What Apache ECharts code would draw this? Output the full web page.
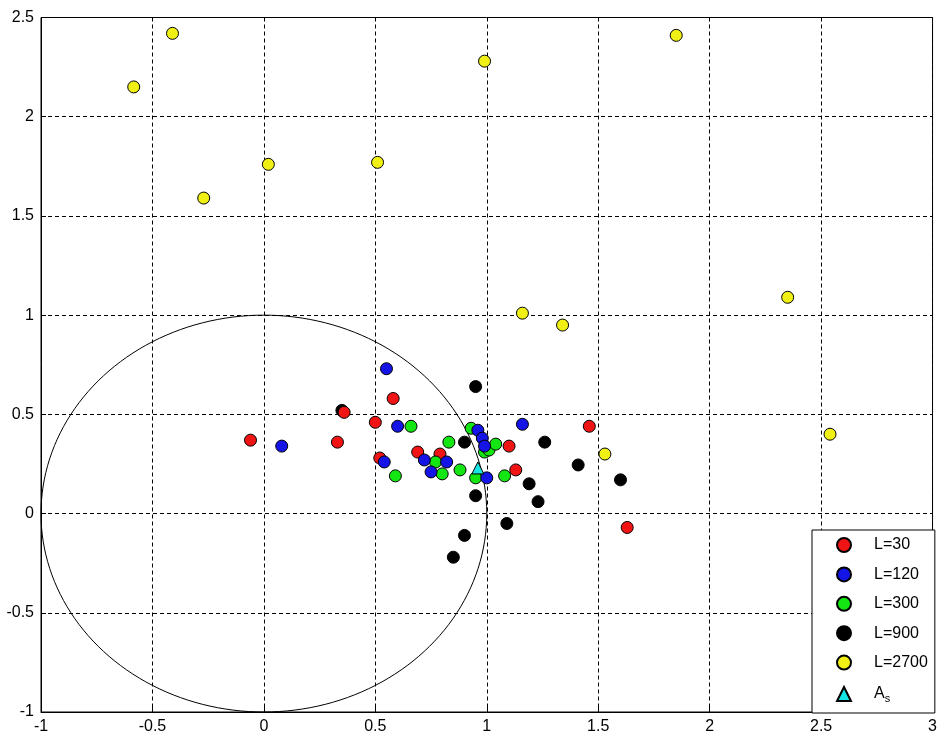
<!DOCTYPE html>
<html>
<head>
<meta charset="utf-8">
<script src="https://cdn.jsdelivr.net/npm/echarts@6/dist/echarts.min.js"></script>
<style>html,body{margin:0;padding:0;background:#fff}#c{width:940px;height:743px}</style>
</head>
<body>
<div id="c"></div>
<script>
// ---- data ----
const xTicks = [-1, -0.5, 0, 0.5, 1, 1.5, 2, 2.5, 3];
const yTicks = [-1, -0.5, 0, 0.5, 1, 1.5, 2, 2.5];
const seriesNames = ['L=30', 'L=120', 'L=300', 'L=900', 'L=2700', 'As'];

const l30 = [[-0.06,0.37],[0.33,0.36],[0.36,0.51],[0.50,0.46],[0.58,0.58],[0.52,0.28],
  [0.69,0.31],[0.79,0.30],[1.10,0.34],[1.13,0.22],[1.46,0.44],[1.63,-0.07]];
const l120 = [[0.08,0.34],[0.55,0.73],[0.60,0.44],[0.54,0.26],[0.72,0.27],[0.75,0.21],
  [0.82,0.26],[0.96,0.42],[0.98,0.38],[0.99,0.34],[1.16,0.45],[1.00,0.18]];
const l300 = [[0.66,0.44],[0.59,0.19],[0.83,0.36],[0.77,0.26],[0.80,0.20],[0.88,0.22],
  [0.93,0.43],[0.95,0.18],[0.99,0.31],[1.01,0.32],[1.04,0.35],[1.08,0.19]];
const l900 = [[0.35,0.52],[0.95,0.64],[0.90,0.36],[1.26,0.36],[1.19,0.15],[1.23,0.06],
  [1.41,0.245],[1.60,0.17],[1.09,-0.05],[0.95,0.09],[0.90,-0.11],[0.85,-0.22]];
const l2700 = [[-0.584,2.15],[-0.41,2.42],[-0.27,1.59],[0.02,1.76],[0.51,1.77],[0.99,2.28],
  [1.85,2.41],[1.16,1.01],[1.34,0.95],[2.35,1.09],[2.54,0.40],[1.53,0.30]];
const as = [[0.96,0.23]];

// unit circle (geometry, radius 1)
const circle = [];
for (let a = 0; a <= 360; a += 2) {
  const t = a * Math.PI / 180;
  circle.push([Math.cos(t), Math.sin(t)]);
}

const FONT = "'Liberation Sans','Arial',sans-serif";
const colors = {'L=30':'#f01414','L=120':'#1414e6','L=300':'#14e614','L=900':'#000000','L=2700':'#f0f014','As':'#14e6e6'};

function sc(name, data, symbol, size) {
  return {
    type: 'scatter', name: name, data: data, symbol: symbol || 'circle', symbolSize: size || 12,
    itemStyle: { color: colors[name], borderColor: '#000', borderWidth: 1, opacity: 1 },
    emphasis: { disabled: true }
  };
}

const axisCommon = {
  type: 'value', interval: 0.5,
  axisLine: { show: true, onZero: false, lineStyle: { color: '#000' } },
  axisTick: { show: true, inside: true, length: 5, lineStyle: { color: '#000' } },
  axisLabel: { color: '#000', fontFamily: FONT, fontSize: 16, margin: 7 },
  splitLine: { show: true, lineStyle: { color: '#000', type: [4, 3], width: 1 } }
};

const chart = echarts.init(document.getElementById('c'), null, { renderer: 'canvas' });
chart.setOption({
  animation: false,
  backgroundColor: '#fff',
  grid: { left: 41, right: 6, top: 17.5, bottom: 31, show: true, borderColor: '#000', borderWidth: 1, containLabel: false },
  xAxis: Object.assign({}, axisCommon, { min: xTicks[0], max: xTicks[xTicks.length - 1] }),
  yAxis: Object.assign({}, axisCommon, { min: yTicks[0], max: yTicks[yTicks.length - 1] }),
  legend: {
    data: seriesNames, orient: 'vertical', left: 812, top: 530,
    padding: [7, 7, 9, 24], itemGap: 13.4, itemWidth: 14, itemHeight: 14,
    borderColor: '#000', borderWidth: 1, backgroundColor: '#fff', borderRadius: 0,
    selectedMode: false,
    textStyle: { fontFamily: FONT, fontSize: 16, lineHeight: 14, color: '#000', padding: [0, 0, 0, 18],
      rich: { n: { fontFamily: FONT, fontSize: 16, lineHeight: 14, color: '#000' },
              s: { fontFamily: FONT, fontSize: 11, lineHeight: 14, color: '#000', padding: [9, 0, 0, 0] } } },
    formatter: function (n) { return n === 'As' ? '{n|A}{s|s}' : n; }
  },
  series: [
    { type: 'line', data: circle, showSymbol: false, symbol: 'none', smooth: false,
      lineStyle: { color: '#000', width: 1 }, silent: true, z: 1 },
    sc('L=900', l900),
    sc('L=30', l30),
    sc('L=300', l300),
    sc('L=120', l120),
    sc('L=2700', l2700),
    sc('As', as, 'triangle', 12)
  ]
});
</script>
</body>
</html>
